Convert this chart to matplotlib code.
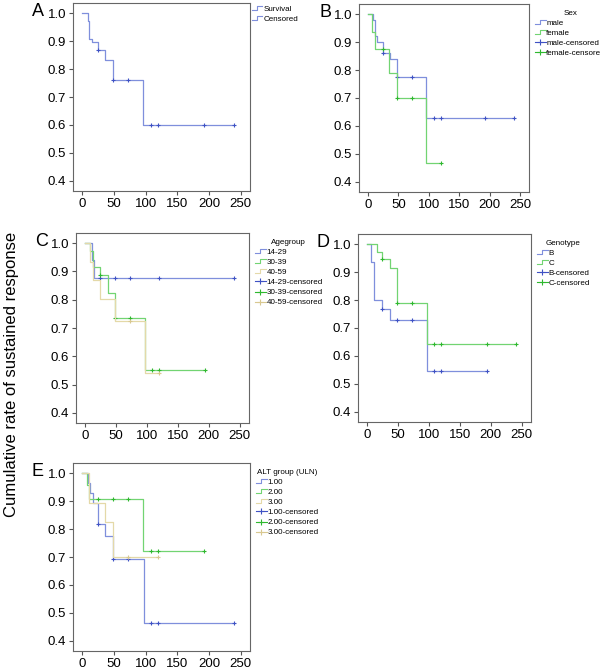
import matplotlib
matplotlib.use("Agg")
import matplotlib.pyplot as plt
from matplotlib.lines import Line2D
from matplotlib.legend_handler import HandlerBase
import numpy as np

plt.rcParams['font.family'] = ['Liberation Sans', 'DejaVu Sans']

# Panel A : whole cohort
a_t = [0, 8, 11, 15, 24, 36, 48, 96, 240]
a_s = [1.0, 0.97, 0.909, 0.895, 0.867, 0.831, 0.761, 0.60, 0.60]
a_c = [24, 48, 72, 108, 120, 193, 240]

# Panel B : sex
b_male_t = [0, 8.5, 12, 15, 24, 36, 48, 96, 240]
b_male_s = [1.0, 0.98, 0.92, 0.90, 0.861, 0.84, 0.775, 0.629, 0.629]
b_male_c = [24, 48, 72, 108, 120, 193, 240]
b_fem_t = [0, 6.5, 11, 35, 48, 96, 120]
b_fem_s = [1.0, 0.936, 0.875, 0.789, 0.70, 0.467, 0.467]
b_fem_c = [24, 48, 72, 120]

# Panel C : age group
c1_t = [0, 10.6, 14, 240]
c1_s = [1.0, 0.94, 0.876, 0.876]
c1_c = [24, 48, 72, 120, 240]
c2_t = [0, 8, 12, 24, 36, 48, 97, 193]
c2_s = [1.0, 0.974, 0.915, 0.888, 0.825, 0.737, 0.551, 0.551]
c2_c = [24, 48, 72, 108, 120, 193]
c3_t = [0, 7.5, 12, 23.5, 48, 96, 120]
c3_s = [1.0, 0.934, 0.869, 0.803, 0.725, 0.542, 0.542]
c3_c = [72, 120]

# Panel D : genotype
d_b_t = [0, 6.5, 11, 23.5, 36, 96, 193]
d_b_s = [1.0, 0.935, 0.80, 0.767, 0.73, 0.547, 0.547]
d_b_c = [24, 48, 72, 108, 120, 193]
d_c_t = [0, 15.5, 23.5, 36, 48, 97, 240]
d_c_s = [1.0, 0.973, 0.945, 0.915, 0.789, 0.644, 0.644]
d_c_c = [24, 48, 72, 108, 120, 193, 240]

# Panel E : ALT group
e1_t = [0, 9, 12, 16.5, 24, 36, 48, 97, 240]
e1_s = [1.0, 0.965, 0.93, 0.892, 0.817, 0.775, 0.694, 0.463, 0.463]
e1_c = [24, 48, 72, 108, 120, 240]
e2_t = [0, 7.5, 10.6, 96, 193]
e2_s = [1.0, 0.957, 0.906, 0.723, 0.723]
e2_c = [24, 48, 72, 108, 120, 193]
e3_t = [0, 10.6, 36, 48, 120]
e3_s = [1.0, 0.892, 0.826, 0.701, 0.701]
e3_c = [72, 120]

xticks = [0, 50, 100, 150, 200, 250]
yticks = [0.4, 0.5, 0.6, 0.7, 0.8, 0.9, 1.0]

BLUE = ('#7f8fdc', '#3f52c4')
GREEN = ('#72d472', '#2fb82f')
TAN = ('#e4d9a8', '#d8c890')


class StepHandler(HandlerBase):
    def create_artists(self, legend, orig_handle, xdescent, ydescent,
                       width, height, fontsize, trans):
        x0 = -xdescent
        y0 = -ydescent
        xs = [x0, x0 + 0.45 * width, x0 + 0.45 * width, x0 + width]
        ys = [y0 + 0.2 * height, y0 + 0.2 * height, y0 + 0.85 * height, y0 + 0.85 * height]
        ln = Line2D(xs, ys, color=orig_handle.get_color(), lw=0.8, transform=trans)
        return [ln]


def km(ax, t, s, c, col):
    ax.step(t, s, where='post', color=col[0], lw=0.9)
    idx = np.searchsorted(t, c, side='right') - 1
    ys = [s[i] for i in idx]
    ax.plot(c, ys, ls='none', marker='+', ms=3, mew=0.8, color=col[1])


def style(ax, letter):
    ax.set_xlim(-15, 265)
    ax.set_ylim(0.364, 1.036)
    ax.set_xticks(xticks)
    ax.set_yticks(yticks)
    ax.set_yticklabels(['%.1f' % v for v in yticks])
    ax.tick_params(direction='out', length=3, width=0.8, color='#555555',
                   labelsize=9.5, pad=2, top=False, right=False)
    for sp in ax.spines.values():
        sp.set_color('#666666')
        sp.set_linewidth(0.8)
    ax.text(-0.2, 0.955, letter, transform=ax.transAxes, fontsize=13,
            ha='center', va='center')


def legend(ax, title, labels, cols):
    handles = []
    hmap = {}
    for lab, col in zip(labels, cols):
        h = Line2D([], [], color=col[0])
        handles.append(h)
        hmap[h] = StepHandler()
    for lab, col in zip(labels, cols):
        handles.append(Line2D([], [], color=col[1], marker='+', ls='-',
                              lw=0.8, ms=5, mew=0.8))
    if title is None:
        names = labels
        bp = 0.2
    else:
        names = list(labels) + [l + '-censored' for l in labels]
        bp = 0.7
    leg = ax.legend(handles, names, handler_map=hmap, title=title,
                    loc='upper left', bbox_to_anchor=(1.0, 1.0),
                    frameon=False, fontsize=5.8, title_fontsize=5.8,
                    handlelength=1.3, handletextpad=0.1,
                    labelspacing=0.3, borderpad=bp, borderaxespad=0.05)
    return leg


fig = plt.figure(figsize=(6, 6.69), dpi=100)
W, H = 600, 669


def add_ax(l, r, t, b):
    return fig.add_axes([l / W, 1 - b / H, (r - l) / W, (b - t) / H])


axA = add_ax(73, 250, 3, 191)
km(axA, a_t, a_s, a_c, BLUE)
style(axA, 'A')
legend(axA, None, ['Survival', 'Censored'], [BLUE, BLUE])

axB = add_ax(359, 529, 4, 192)
km(axB, b_male_t, b_male_s, b_male_c, BLUE)
km(axB, b_fem_t, b_fem_s, b_fem_c, GREEN)
style(axB, 'B')
legend(axB, 'Sex', ['male', 'female'], [BLUE, GREEN])

axC = add_ax(76, 249, 233, 423)
km(axC, c1_t, c1_s, c1_c, BLUE)
km(axC, c2_t, c2_s, c2_c, GREEN)
km(axC, c3_t, c3_s, c3_c, TAN)
style(axC, 'C')
legend(axC, 'Agegroup', ['14-29', '30-39', '40-59'], [BLUE, GREEN, TAN])

axD = add_ax(358, 531, 234, 422)
km(axD, d_b_t, d_b_s, d_b_c, BLUE)
km(axD, d_c_t, d_c_s, d_c_c, GREEN)
style(axD, 'D')
legend(axD, 'Genotype', ['B', 'C'], [BLUE, GREEN])

axE = add_ax(73, 250, 463, 651)
km(axE, e1_t, e1_s, e1_c, BLUE)
km(axE, e2_t, e2_s, e2_c, GREEN)
km(axE, e3_t, e3_s, e3_c, TAN)
style(axE, 'E')
legend(axE, 'ALT group (ULN)', ['1.00', '2.00', '3.00'], [BLUE, GREEN, TAN])

fig.text(0.02, 0.441, 'Cumulative rate of sustained response', rotation=90,
         ha='center', va='center', fontsize=12)

fig.savefig('out.png', dpi=100)
